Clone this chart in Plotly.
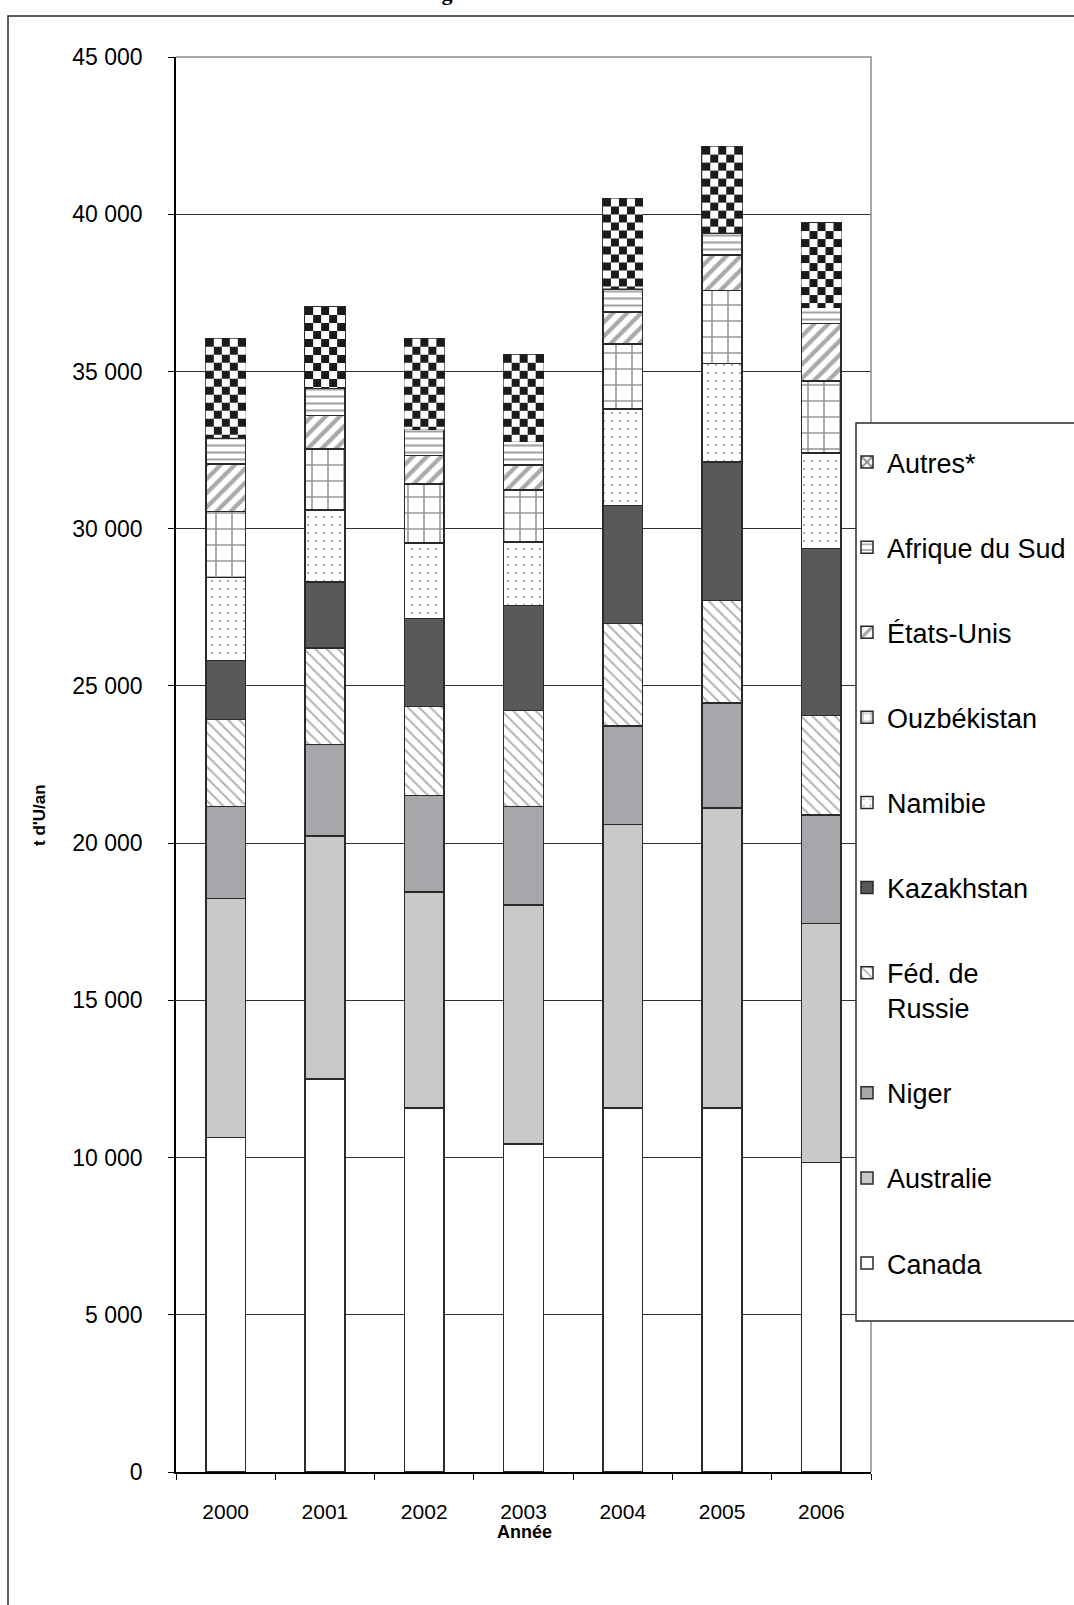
import numpy as np
import plotly.graph_objects as go

# Uranium production by country, tonnes of U per year
years = ["2000", "2001", "2002", "2003", "2004", "2005", "2006"]
canada = [10640, 12500, 11580, 10430, 11580, 11580, 9850]
australie = [7600, 7720, 6870, 7600, 9010, 9540, 7600]
niger = [2920, 2920, 3070, 3130, 3130, 3340, 3450]
russie = [2770, 3070, 2820, 3060, 3260, 3260, 3160]
kazakhstan = [1870, 2090, 2810, 3340, 3760, 4400, 5310]
namibie = [2650, 2290, 2390, 2020, 3070, 3140, 3040]
ouzbekistan = [2100, 1950, 1880, 1650, 2070, 2310, 2280]
etats_unis = [1510, 1060, 900, 790, 1010, 1140, 1830]
afrique_sud = [830, 880, 830, 750, 740, 690, 510]
autres = [3150, 2570, 2890, 2760, 2870, 2750, 2690]

y_ticks = list(range(0, 45001, 5000))

# figure geometry
W, H = 1074, 1605
M_L, M_R, M_T, M_B = 176, 203, 57, 133
PW, PH = W - M_L - M_R, H - M_T - M_B
Y_MAX = 45000
BAR_W = 0.40
OUTLINE = dict(color="#2a2a2a", width=1.5)


def px_x(p):
    return (p - M_L) / PW


def px_y(p):
    return (H - M_B - p) / PH


series = [
    ("Canada", canada, dict(color="white")),
    ("Australie", australie, dict(color="#c8c9cb")),
    ("Niger", niger, dict(color="#a6a7aa")),
    ("Féd. de<br>Russie", russie,
     dict(color="white", pattern=dict(shape="\\", fgcolor="#666666", bgcolor="white", size=8, solidity=0.25))),
    ("Kazakhstan", kazakhstan, dict(color="#58595b")),
    ("Namibie", namibie,
     dict(color="white", pattern=dict(shape=".", fgcolor="#333333", bgcolor="white", size=8, solidity=0.06))),
    ("Ouzbékistan", ouzbekistan,
     dict(color="white", pattern=dict(shape="+", fgcolor="#2a2a2a", bgcolor="white", size=16, solidity=0.18))),
    ("États-Unis", etats_unis,
     dict(color="white", pattern=dict(shape="/", fgcolor="#555555", bgcolor="white", size=10, solidity=0.42))),
    ("Afrique du Sud", afrique_sud,
     dict(color="white", pattern=dict(shape="-", fgcolor="#4a4a4a", bgcolor="white", size=7, solidity=0.3))),
    ("Autres*", autres,
     dict(color="white", pattern=dict(shape="x", fgcolor="#1b1b1b", bgcolor="white", size=8, solidity=0.5))),
]

fig = go.Figure()

n_series = len(series)
for i, (name, vals, mk) in enumerate(series):
    fig.add_trace(go.Bar(
        x=years, y=vals, name=name, legendgroup=f"g{i}", legendrank=100 * (n_series - i),
        marker=dict(line=OUTLINE, **mk), hoverinfo="x+y+name",
    ))

# checkerboard fill of the "Autres" segments, drawn on an overlaid copy of the axes
CELL_PX = 8
COLS = 5
cell_units = CELL_PX * Y_MAX / PH
for i in range(len(years)):
    base = sum(s[1][i] for s in series[:-1])
    top = base + autres[i]
    y_edges = [base] + list(np.arange(top, base, -cell_units)[::-1])
    x_edges = i - BAR_W / 2 + np.arange(COLS + 1) * BAR_W / COLS
    nrows = len(y_edges) - 1
    z = [[(r + c + nrows) % 2 for c in range(COLS)] for r in range(nrows)]
    fig.add_trace(go.Heatmap(
        x=x_edges, y=y_edges, z=z, xaxis="x2", yaxis="y2",
        colorscale=[[0, "white"], [1, "#1b1b1b"]], zmin=0, zmax=1,
        showscale=False, hoverinfo="skip", showlegend=False,
    ))

fig.update_layout(
    width=W, height=H,
    margin=dict(l=M_L, r=M_R, t=M_T, b=M_B, autoexpand=False),
    barmode="stack", bargap=1 - BAR_W,
    paper_bgcolor="white", plot_bgcolor="white",
    separators=", ",
    font=dict(family="Liberation Sans, Arial, sans-serif", size=21, color="black"),
    xaxis=dict(
        type="category", range=[-0.5, len(years) - 0.5], tickson="boundaries",
        ticks="outside", ticklen=6, tickcolor="black", tickwidth=1,
        showline=True, linecolor="black", linewidth=1.5, showgrid=False,
        ticklabelstandoff=20, tickfont=dict(size=21),
    ),
    yaxis=dict(
        range=[0, Y_MAX], tickvals=y_ticks, tickformat=",",
        showgrid=True, gridcolor="#303030", gridwidth=1.2, zeroline=False,
        showline=True, linecolor="black", linewidth=1.5,
        ticks="outside", ticklen=6, tickcolor="black",
        ticklabelstandoff=21, tickfont=dict(size=23),
    ),
    xaxis2=dict(overlaying="x", anchor="y2", range=[-0.5, len(years) - 0.5], visible=False),
    yaxis2=dict(overlaying="y", anchor="x2", range=[0, Y_MAX], visible=False),
    legend=dict(
        x=px_x(847), y=px_y(438), xanchor="left", yanchor="top",
        traceorder="grouped", tracegroupgap=47, valign="top",
        bgcolor="rgba(0,0,0,0)", borderwidth=0,
        font=dict(size=27, family="Liberation Sans, Arial, sans-serif"),
    ),
    showlegend=True,
)

# plot frame (top and right edges), legend box, outer chart border
fig.add_shape(type="path", path="M 0,1 L 1,1 L 1,0", xref="paper", yref="paper",
              line=dict(color="#8c8c8c", width=1.5), layer="above")
fig.add_shape(type="rect", xref="paper", yref="paper",
              x0=px_x(856), x1=px_x(1100), y0=px_y(1321), y1=px_y(423),
              line=dict(color="#2a2a2a", width=1.5), fillcolor="white", layer="above")
fig.add_shape(type="rect", xref="paper", yref="paper",
              x0=px_x(8), x1=px_x(1120), y0=px_y(1700), y1=px_y(16),
              line=dict(color="#2a2a2a", width=1.5), fillcolor="rgba(0,0,0,0)", layer="above")

# axis titles and heading
fig.add_annotation(text="<b>t d'U/an</b>", textangle=-90, x=px_x(39), y=px_y(815),
                   xanchor="center", yanchor="middle",
                   xref="paper", yref="paper", showarrow=False, font=dict(size=17))
fig.add_annotation(text="<b>Année</b>", x=px_x(524), y=px_y(1532),
                   xanchor="center", yanchor="middle",
                   xref="paper", yref="paper", showarrow=False, font=dict(size=18))
fig.add_annotation(text="<b>Figure 3.  Production minière récente d'uranium</b>",
                   x=px_x(650), y=px_y(7), xref="paper", yref="paper",
                   xanchor="center", yanchor="bottom",
                   showarrow=False, font=dict(size=22, family="Liberation Serif, Times New Roman, serif"))

fig.write_html("out.html")
